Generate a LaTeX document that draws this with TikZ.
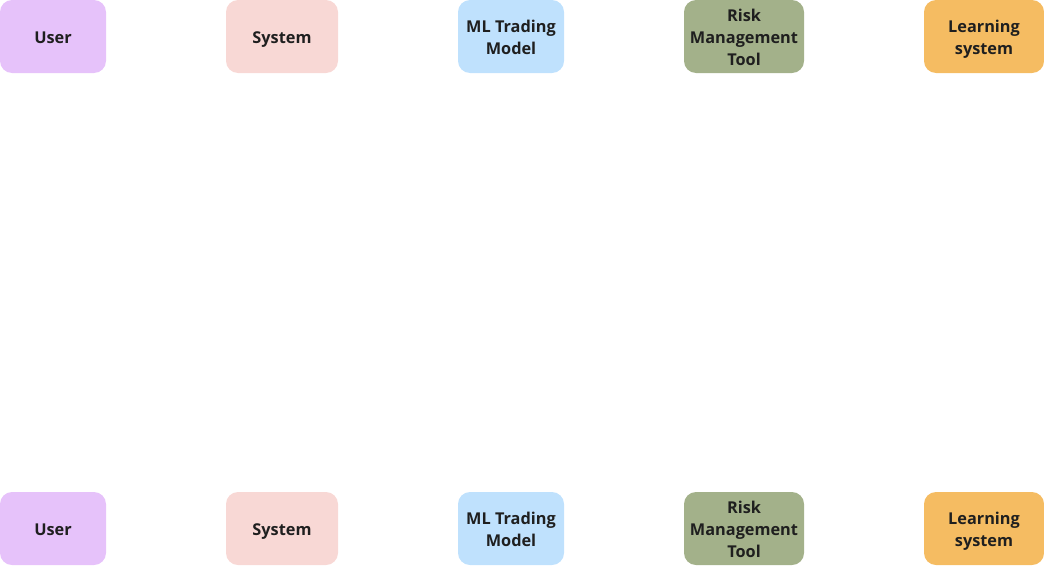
\documentclass[tikz,border=0pt]{standalone}
\usepackage{fontspec}
\setmainfont{Open Sans}
\definecolor{cuser}{HTML}{E6C2FA}
\definecolor{csys}{HTML}{F8D8D5}
\definecolor{cml}{HTML}{BFE1FD}
\definecolor{crisk}{HTML}{A3B18A}
\definecolor{clearn}{HTML}{F5BC62}
\definecolor{ctext}{HTML}{1F1F1F}
\tikzset{
  actor/.style={inner sep=0pt, align=center, text depth=0pt, yshift=-0.8pt,
    font=\fontsize{16.3}{22}\selectfont\bfseries, text=ctext},
  actorbg/.style={rounded corners=12pt},
}
\begin{document}
\begin{tikzpicture}[x=1pt,y=-1pt]
\useasboundingbox (0,0) rectangle (1044,565);
\foreach \yt/\yb/\tag in {0/73/t,492/565/b}{
  \fill[cuser,actorbg] (0,\yt) rectangle (106,\yb);
  \fill[csys,actorbg] (226,\yt) rectangle (338,\yb);
  \fill[cml,actorbg] (458,\yt) rectangle (564,\yb);
  \fill[crisk,actorbg] (684,\yt) rectangle (804,\yb);
  \fill[clearn,actorbg] (924,\yt) rectangle (1044,\yb);
  \node[actor] (user\tag) at (53,\yt+36.5) {User};
  \node[actor] (sys\tag) at (282,\yt+36.5) {System};
  \node[actor] (ml\tag) at (511,\yt+36.5) {ML Trading\\Model};
  \node[actor] (risk\tag) at (744,\yt+36.5) {Risk\\Management\\Tool};
  \node[actor] (learn\tag) at (984,\yt+36.5) {Learning\\system};
}
\end{tikzpicture}
\end{document}
